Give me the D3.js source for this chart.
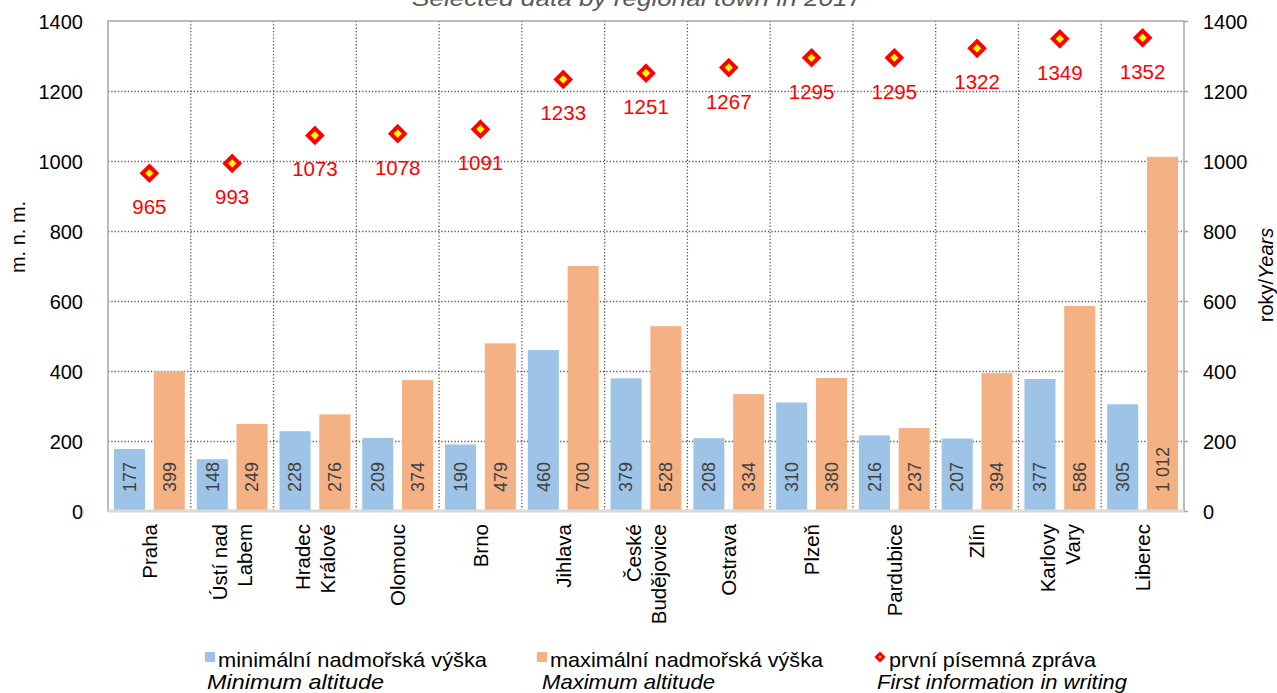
<!DOCTYPE html>
<html>
<head>
<meta charset="utf-8">
<script src="https://cdn.jsdelivr.net/npm/d3@7"></script>
<style>
  html, body { margin: 0; padding: 0; background: #fff; }
  svg { display: block; font-family: "Liberation Sans", Arial, sans-serif; }
</style>
</head>
<body>
<svg id="chart" width="1277" height="693"></svg>
<script>
// Regional towns (line breaks mark wrapped category labels)
const towns = ["Praha", "Ústí nad\nLabem", "Hradec\nKrálové", "Olomouc", "Brno", "Jihlava",
  "České\nBudějovice", "Ostrava", "Plzeň", "Pardubice", "Zlín", "Karlovy\nVary", "Liberec"];
// Altitude in metres above sea level
const minAltitude = [177, 148, 228, 209, 190, 460, 379, 208, 310, 216, 207, 377, 305];
const maxAltitude = [399, 249, 276, 374, 479, 700, 528, 334, 380, 237, 394, 586, 1012];
// Year of the first written record
const firstRecord = [965, 993, 1073, 1078, 1091, 1233, 1251, 1267, 1295, 1295, 1322, 1349, 1352];
const yTicks = [0, 200, 400, 600, 800, 1000, 1200, 1400];

const colors = { min: "#9DC3E6", max: "#F4B183", marker: "#FF0000", markerFill: "#FFFF00" };

const svg = d3.select("#chart");
const plot = { left: 108, right: 1184, top: 21, bottom: 511 };

const x = d3.scaleBand().domain(d3.range(towns.length)).range([plot.left, plot.right]).padding(0);
const xSeries = d3.scaleBand().domain(["min", "max"]).range([0, x.bandwidth()])
  .paddingInner(0.22).paddingOuter(0.15);
const yLeft = d3.scaleLinear().domain([0, 1400]).range([plot.bottom, plot.top]);
const yRight = d3.scaleLinear().domain([0, 1400]).range([plot.bottom, plot.top]);

const fmtSpace = d3.formatLocale({ decimal: ",", thousands: "\u00a0", grouping: [3], currency: ["", ""] }).format(",d");
const fmtPlain = d3.format("d");

// Title (runs above the canvas edge)
svg.append("text")
  .attr("x", 637).attr("y", 6)
  .attr("text-anchor", "middle")
  .attr("font-size", 22).attr("font-style", "italic").attr("fill", "#595959")
  .attr("textLength", 450).attr("lengthAdjust", "spacingAndGlyphs")
  .text("Selected data by regional town in 2017");

// Horizontal gridlines
svg.append("g").selectAll("line")
  .data(yTicks.filter(d => d > 0 && d < 1400))
  .join("line")
  .attr("x1", plot.left).attr("x2", plot.right)
  .attr("y1", d => yLeft(d) + 0.5).attr("y2", d => yLeft(d) + 0.5)
  .attr("stroke", "#595959").attr("stroke-width", 1.3).attr("stroke-dasharray", "1.3,2");

// Vertical gridlines between towns
svg.append("g").selectAll("line")
  .data(d3.range(1, towns.length))
  .join("line")
  .attr("x1", d => x(d)).attr("x2", d => x(d))
  .attr("y1", plot.top).attr("y2", plot.bottom)
  .attr("stroke", "#595959").attr("stroke-width", 1.3).attr("stroke-dasharray", "1.3,2");

// Plot border
svg.append("rect")
  .attr("x", plot.left).attr("y", plot.top)
  .attr("width", plot.right - plot.left).attr("height", plot.bottom - plot.top)
  .attr("fill", "none").attr("stroke", "#a6a6a6").attr("stroke-width", 1.5);

// Bars
const groups = svg.append("g").selectAll("g")
  .data(towns.map((t, i) => ({ i, min: minAltitude[i], max: maxAltitude[i] })))
  .join("g")
  .attr("transform", d => `translate(${x(d.i)},0)`);

["min", "max"].forEach(key => {
  groups.append("rect")
    .attr("x", xSeries(key))
    .attr("y", d => yLeft(d[key]))
    .attr("width", xSeries.bandwidth())
    .attr("height", d => yLeft(0) - yLeft(d[key]))
    .attr("fill", colors[key]);
  groups.append("text")
    .attr("transform", d => `translate(${xSeries(key) + xSeries.bandwidth() / 2 + 6.3},${yLeft(0) - 19}) rotate(-90)`)
    .attr("font-size", 18).attr("fill", "#404040")
    .text(d => fmtSpace(d[key]));
});

// Category axis line
svg.append("line")
  .attr("x1", plot.left).attr("x2", plot.right)
  .attr("y1", plot.bottom).attr("y2", plot.bottom)
  .attr("stroke", "#d9d9d9").attr("stroke-width", 3);

// Category labels (rotated, wrapped)
const lineH = 25;
svg.append("g").selectAll("text")
  .data(towns.map((t, i) => ({ i, lines: t.split("\n") })))
  .join("text")
  .attr("transform", d => `translate(${x(d.i) + x.bandwidth() / 2},${plot.bottom + 13}) rotate(-90)`)
  .attr("text-anchor", "end").attr("font-size", 20.5).attr("fill", "#000")
  .each(function (d) {
    const n = d.lines.length;
    d3.select(this).selectAll("tspan").data(d.lines).join("tspan")
      .attr("x", 0)
      .attr("y", (l, k) => (k - (n - 1) / 2) * lineH + 7.3)
      .text(l => l);
  });

// Left axis
const leftAxis = svg.append("g").attr("transform", `translate(${plot.left},0)`)
  .call(d3.axisLeft(yLeft).tickValues(yTicks).tickFormat(fmtPlain).tickSize(0).tickPadding(25));
leftAxis.select(".domain").remove();
leftAxis.selectAll("text").attr("font-size", 20).attr("font-family", "Liberation Sans, Arial, sans-serif").attr("fill", "#000").attr("dy", "0.35em");

// Right axis
const rightAxis = svg.append("g").attr("transform", `translate(${plot.right},0)`)
  .call(d3.axisRight(yRight).tickValues(yTicks).tickFormat(fmtPlain).tickSize(4).tickPadding(15));
rightAxis.select(".domain").remove();
rightAxis.selectAll("line").attr("stroke", "#a6a6a6").attr("stroke-width", 1.5);
rightAxis.selectAll("text").attr("font-size", 20).attr("font-family", "Liberation Sans, Arial, sans-serif").attr("fill", "#000").attr("dy", "0.35em");

// Axis titles
svg.append("text")
  .attr("transform", "translate(25,237) rotate(-90)")
  .attr("text-anchor", "middle").attr("font-size", 20).attr("fill", "#000")
  .text("m. n. m.");
const rt = svg.append("text")
  .attr("transform", "translate(1273,275) rotate(-90)")
  .attr("text-anchor", "middle").attr("font-size", 20).attr("fill", "#000");
rt.append("tspan").text("roky/");
rt.append("tspan").attr("font-style", "italic").text("Years");

// First written record markers
const diamond = r => `M0,${-r}L${r},0L0,${r}L${-r},0Z`;
const markers = svg.append("g").selectAll("g")
  .data(firstRecord.map((v, i) => ({ i, v })))
  .join("g")
  .attr("transform", d => `translate(${x(d.i) + x.bandwidth() / 2},${yRight(d.v)})`);
markers.append("path")
  .attr("d", diamond(7))
  .attr("fill", colors.markerFill).attr("stroke", colors.marker).attr("stroke-width", 4)
  .attr("stroke-linejoin", "miter");
markers.append("text")
  .attr("y", 41).attr("text-anchor", "middle")
  .attr("font-size", 20.5).attr("fill", colors.marker)
  .text(d => fmtPlain(d.v));

// Legend
const legendItems = [
  { type: "rect", color: colors.min, x: 205, label: "minimální nadmořská výška", w1: 269, en: "Minimum altitude", ex: 207, w2: 177 },
  { type: "rect", color: colors.max, x: 537, label: "maximální nadmořská výška", w1: 273, en: "Maximum altitude", ex: 542, w2: 173 },
  { type: "diamond", color: colors.marker, x: 876, label: "první písemná zpráva", w1: 207, en: "First information in writing", ex: 877, w2: 250 }
];
const legend = svg.append("g");
legendItems.forEach(item => {
  if (item.type === "rect") {
    legend.append("rect").attr("x", item.x).attr("y", 652).attr("width", 10).attr("height", 10).attr("fill", item.color);
  } else {
    legend.append("path").attr("d", diamond(3.5))
      .attr("transform", `translate(${item.x + 4},657)`)
      .attr("fill", colors.markerFill).attr("stroke", colors.marker).attr("stroke-width", 3);
  }
  legend.append("text")
    .attr("x", item.x + 13).attr("y", 667).attr("font-size", 21).attr("fill", "#000")
    .attr("textLength", item.w1).attr("lengthAdjust", "spacingAndGlyphs")
    .text(item.label);
  legend.append("text")
    .attr("x", item.ex).attr("y", 689).attr("font-size", 21).attr("font-style", "italic").attr("fill", "#000")
    .attr("textLength", item.w2).attr("lengthAdjust", "spacingAndGlyphs")
    .text(item.en);
});
</script>
</body>
</html>
